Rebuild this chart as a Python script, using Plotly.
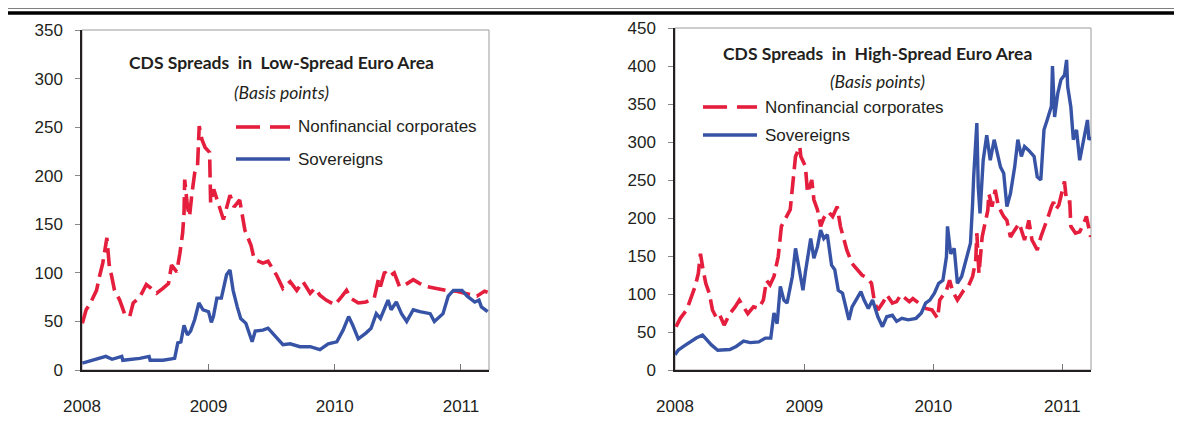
import plotly.graph_objects as go

# ---------------- Data ----------------
low_nfc_dates = ["2008-01-02","2008-01-13","2008-01-24","2008-02-12","2008-02-21","2008-03-01","2008-03-13","2008-03-21",
 "2008-03-26","2008-04-04","2008-04-19","2008-05-04","2008-05-18","2008-05-28","2008-06-16","2008-07-05","2008-07-19",
 "2008-08-04","2008-08-22","2008-09-07","2008-09-16","2008-10-01","2008-10-10","2008-10-18","2008-10-22","2008-10-24",
 "2008-11-01","2008-11-07","2008-11-14","2008-11-22","2008-11-30","2008-12-05","2008-12-13","2008-12-22","2009-01-04",
 "2009-01-07","2009-01-16","2009-01-25","2009-02-13","2009-03-04","2009-03-16","2009-04-01","2009-04-16","2009-05-04",
 "2009-05-13","2009-06-07","2009-06-22","2009-07-16","2009-08-04","2009-08-25","2009-09-13","2009-10-01","2009-10-22",
 "2009-11-04","2009-11-19","2009-12-07","2010-01-01","2010-01-22","2010-02-04","2010-02-16","2010-03-10","2010-04-01",
 "2010-04-25","2010-05-07","2010-05-13","2010-05-25","2010-06-07","2010-06-22","2010-07-07","2010-07-25","2010-08-16",
 "2010-09-04","2010-09-22","2010-10-22","2010-11-19","2010-12-19","2011-01-16","2011-02-16","2011-03-10","2011-03-19"]
low_nfc_vals = [48,62,68,82,97,110,136,103,98,82,72,57,55,69,75,88,84,79,84,89,108,101,120,141,161,196,
 168,158,182,203,209,251,237,229,224,172,186,175,155,180,168,175,144,128,114,110,112,98,84,91,82,91,79,
 84,77,72,67,76,82,74,69,70,74,93,86,101,96,100,86,88,93,89,86,84,82,81,79,76,81,80]

low_sov_dates = ["2008-01-02","2008-02-03","2008-03-10","2008-03-28","2008-04-25","2008-04-28","2008-06-16","2008-07-13",
 "2008-07-16","2008-08-22","2008-09-25","2008-10-04","2008-10-13","2008-10-22","2008-11-01","2008-11-10","2008-11-22",
 "2008-12-04","2008-12-16","2009-01-01","2009-01-09","2009-01-15","2009-01-25","2009-02-07","2009-02-22","2009-03-04",
 "2009-03-13","2009-03-25","2009-04-04","2009-04-19","2009-05-07","2009-05-16","2009-06-07","2009-06-22","2009-07-04",
 "2009-08-04","2009-08-25","2009-09-22","2009-10-22","2009-11-19","2009-12-13","2010-01-07","2010-01-25","2010-02-10",
 "2010-02-22","2010-03-10","2010-04-01","2010-04-16","2010-05-01","2010-05-13","2010-06-04","2010-06-13","2010-06-28",
 "2010-07-13","2010-07-28","2010-08-16","2010-09-04","2010-10-04","2010-10-16","2010-11-10","2010-11-25","2010-12-10",
 "2011-01-04","2011-01-19","2011-02-10","2011-02-22","2011-03-01","2011-03-19"]
low_sov_vals = [7,10,14,11,14,10,12,14,10,10,12,28,29,46,36,40,52,69,62,60,49,55,74,74,98,103,82,65,53,48,29,40,41,
 43,38,26,27,24,24,21,27,29,41,55,46,32,38,43,58,53,72,62,70,58,50,62,60,58,50,58,76,82,82,76,70,72,65,60]

high_nfc_dates = ["2008-01-04","2008-01-16","2008-02-03","2008-02-16","2008-02-27","2008-03-07","2008-03-13","2008-03-19",
 "2008-03-28","2008-04-07","2008-04-16","2008-04-28","2008-05-07","2008-05-19","2008-06-04","2008-06-19","2008-07-01",
 "2008-07-13","2008-07-25","2008-08-10","2008-08-25","2008-09-07","2008-09-16","2008-09-26","2008-10-07","2008-10-19",
 "2008-10-28","2008-11-22","2008-12-01","2008-12-07","2008-12-19","2008-12-22","2009-01-04","2009-01-10","2009-01-22",
 "2009-01-28","2009-02-07","2009-02-16","2009-02-25","2009-03-10","2009-03-22","2009-04-04","2009-04-13","2009-04-22",
 "2009-05-01","2009-05-16","2009-05-28","2009-06-13","2009-06-28","2009-07-10","2009-07-19","2009-07-28","2009-08-13",
 "2009-08-22","2009-09-07","2009-09-19","2009-10-01","2009-10-25","2009-11-04","2009-11-22","2009-12-10","2009-12-28",
 "2010-01-13","2010-01-19","2010-02-07","2010-02-16","2010-02-25","2010-03-10","2010-03-28","2010-04-10","2010-04-22",
 "2010-05-01","2010-05-04","2010-05-10","2010-05-19","2010-06-04","2010-06-07","2010-06-16","2010-06-25","2010-07-04",
 "2010-07-19","2010-07-28","2010-08-07","2010-08-19","2010-09-01","2010-09-16","2010-09-28","2010-10-07","2010-10-22",
 "2010-11-01","2010-11-10","2010-11-22","2010-12-01","2010-12-07","2010-12-13","2010-12-22","2011-01-07","2011-01-13",
 "2011-01-22","2011-01-25","2011-02-07","2011-02-19","2011-03-01","2011-03-10","2011-03-22"]
high_nfc_vals = [57,68,79,97,110,127,153,136,114,101,79,68,72,59,74,83,92,83,74,83,81,92,118,112,123,149,
 189,211,259,281,294,281,268,233,250,224,211,189,200,208,202,215,189,175,158,140,134,125,121,114,88,79,90,
 99,88,90,99,90,94,88,81,79,68,92,105,118,103,92,105,110,123,145,180,127,175,210,232,215,237,215,202,197,
 175,184,193,171,197,171,158,175,186,202,215,221,211,217,248,221,221,189,180,182,191,202,175]

high_sov_dates = ["2008-01-01","2008-01-10","2008-01-25","2008-02-12","2008-03-01","2008-03-19","2008-04-01","2008-04-13",
 "2008-05-01","2008-05-19","2008-06-04","2008-06-22","2008-07-13","2008-08-01","2008-08-25","2008-09-13","2008-09-28",
 "2008-10-07","2008-10-16","2008-10-25","2008-11-04","2008-11-13","2008-11-28","2008-12-07","2008-12-16","2008-12-28",
 "2009-01-04","2009-01-19","2009-01-28","2009-02-07","2009-02-16","2009-02-25","2009-03-07","2009-03-19","2009-03-28",
 "2009-04-07","2009-04-19","2009-05-07","2009-05-16","2009-05-28","2009-06-10","2009-06-19","2009-07-01","2009-07-13",
 "2009-07-28","2009-08-10","2009-08-22","2009-09-07","2009-09-19","2009-10-04","2009-10-22","2009-11-13","2009-11-28",
 "2009-12-10","2009-12-22","2010-01-04","2010-01-16","2010-01-28","2010-02-07","2010-02-10","2010-02-19","2010-03-01",
 "2010-03-10","2010-03-22","2010-04-07","2010-04-16","2010-04-22","2010-04-25","2010-05-04","2010-05-08","2010-05-13",
 "2010-05-22","2010-06-01","2010-06-11","2010-06-22","2010-07-01","2010-07-10","2010-07-19","2010-07-28","2010-08-07",
 "2010-08-19","2010-08-28","2010-09-07","2010-09-16","2010-09-28","2010-10-13","2010-10-22","2010-11-01","2010-11-10",
 "2010-11-19","2010-12-01","2010-12-04","2010-12-10","2010-12-19","2010-12-28","2011-01-07","2011-01-13","2011-01-16",
 "2011-01-25","2011-02-01","2011-02-10","2011-02-19","2011-03-04","2011-03-13","2011-03-17","2011-03-23"]
high_sov_vals = [20,26,31,37,42,46,39,33,26,27,27,31,38,36,37,42,42,75,61,110,92,88,123,160,136,105,129,173,147,
 162,184,173,178,138,132,105,101,66,83,92,103,92,81,92,70,57,70,72,64,68,66,68,75,88,92,101,114,118,149,189,
 153,160,114,123,149,167,219,254,325,241,206,276,309,276,303,285,267,259,215,232,267,303,281,294,289,281,254,
 250,316,329,347,400,333,364,382,388,408,373,346,303,316,276,311,329,303,307]

year_ticks = ["2008-01-01", "2009-01-01", "2010-01-01", "2011-01-01"]
year_labels = ["2008", "2009", "2010", "2011"]
series_names = ["Nonfinancial corporates", "Sovereigns"]
titles = ["CDS Spreads\u00a0 in\u00a0 Low-Spread Euro Area", "CDS Spreads\u00a0 in\u00a0 High-Spread Euro Area"]
subtitle = "(Basis points)"

# ---------------- Style ----------------
PAGE_OFF = 8            # default body margin of the html page
W, H = 1182 - PAGE_OFF, 423 - PAGE_OFF
RED = "#E41E3C"
BLUE = "#3753A5"
TXT = "#231F20"
def fx(p): return (p - PAGE_OFF) / W
def fy(p): return 1 - (p - PAGE_OFF) / H

fig = go.Figure()
red_line = dict(color=RED, width=3.6, dash="18px,7px")
blue_line = dict(color=BLUE, width=3.4)
fig.add_trace(go.Scatter(x=low_nfc_dates, y=low_nfc_vals, xaxis="x", yaxis="y", mode="lines",
                         line=red_line, name=series_names[0], showlegend=False))
fig.add_trace(go.Scatter(x=low_sov_dates, y=low_sov_vals, xaxis="x", yaxis="y", mode="lines",
                         line=blue_line, name=series_names[1], showlegend=False))
fig.add_trace(go.Scatter(x=high_nfc_dates, y=high_nfc_vals, xaxis="x2", yaxis="y2", mode="lines",
                         line=red_line, name=series_names[0], showlegend=False))
fig.add_trace(go.Scatter(x=high_sov_dates, y=high_sov_vals, xaxis="x2", yaxis="y2", mode="lines",
                         line=blue_line, name=series_names[1], showlegend=False))

tickfont = dict(family="Liberation Sans, Arial, sans-serif", size=17, color=TXT)
def xax(dom, anchor):
    return dict(domain=dom, anchor=anchor, type="date", range=["2008-01-01", "2011-03-23"],
                tickvals=year_ticks, ticktext=year_labels, ticks="inside", ticklen=6, tickwidth=1,
                tickcolor="#777", showline=True, linecolor=TXT, linewidth=1.5, showgrid=False,
                zeroline=False, tickfont=tickfont, ticklabelstandoff=20, automargin=False)
def yax(dom, anchor, top):
    return dict(domain=dom, anchor=anchor, range=[0, top], dtick=50, ticks="outside", ticklen=5,
                tickwidth=1, tickcolor="#888", showline=True, linecolor=TXT, linewidth=1.5,
                showgrid=False, zeroline=False, tickfont=tickfont, ticklabelstandoff=9, automargin=False)

L = dict(x0=82, x1=489, y0=370, y1=30)
R = dict(x0=675, x1=1091, y0=370, y1=28)

shapes = []
for b in (L, R):
    shapes.append(dict(type="rect", xref="paper", yref="paper", x0=fx(b["x0"]), x1=fx(b["x1"]),
                       y0=fy(b["y0"]), y1=fy(b["y1"]), line=dict(color="#9a9a9a", width=1), layer="below"))
# top rules
shapes.append(dict(type="line", xref="paper", yref="paper", x0=fx(6), x1=1, y0=fy(7.5), y1=fy(7.5),
                   line=dict(color="black", width=2)))
shapes.append(dict(type="line", xref="paper", yref="paper", x0=fx(6), x1=1, y0=fy(13), y1=fy(13),
                   line=dict(color="black", width=3.5)))

annotations = []
def legend(x0, y_red, y_blue, xt):
    shapes.append(dict(type="line", xref="paper", yref="paper", x0=fx(x0), x1=fx(x0 + 24),
                       y0=fy(y_red), y1=fy(y_red), line=dict(color=RED, width=3.6)))
    shapes.append(dict(type="line", xref="paper", yref="paper", x0=fx(x0 + 34), x1=fx(x0 + 54),
                       y0=fy(y_red), y1=fy(y_red), line=dict(color=RED, width=3.6)))
    shapes.append(dict(type="line", xref="paper", yref="paper", x0=fx(x0), x1=fx(x0 + 54),
                       y0=fy(y_blue), y1=fy(y_blue), line=dict(color=BLUE, width=3.4)))
    for name, yy in zip(series_names, (y_red, y_blue)):
        annotations.append(dict(text=name, xref="paper", yref="paper", x=fx(xt), y=fy(yy),
                                xanchor="left", yanchor="middle", showarrow=False,
                                font=dict(family="Liberation Sans, Arial, sans-serif", size=17, color=TXT)))
legend(236, 127, 159, 296)
legend(703, 107, 135, 763)

for title, (cx, ty, sy) in zip(titles, [(281, 63, 92), (877, 53, 82)]):
    annotations.append(dict(text="<b>" + title + "</b>", xref="paper", yref="paper", x=fx(cx), y=fy(ty),
                            xanchor="center", yanchor="middle", showarrow=False,
                            font=dict(family="Lato, sans-serif", size=17.5, color=TXT)))
    annotations.append(dict(text="<i>" + subtitle + "</i>", xref="paper", yref="paper", x=fx(cx), y=fy(sy),
                            xanchor="center", yanchor="middle", showarrow=False,
                            font=dict(family="Lato, sans-serif", size=17.5, color=TXT)))

fig.update_layout(
    width=W, height=H, margin=dict(l=0, r=0, t=0, b=0, autoexpand=False),
    paper_bgcolor="white", plot_bgcolor="white", showlegend=False,
    xaxis=xax([fx(L["x0"]), fx(L["x1"])], "y"),
    yaxis=yax([fy(L["y0"]), fy(L["y1"])], "x", 350),
    xaxis2=xax([fx(R["x0"]), fx(R["x1"])], "y2"),
    yaxis2=yax([fy(R["y0"]), fy(R["y1"])], "x2", 450),
    shapes=shapes, annotations=annotations,
)
fig.write_html("out.html")
